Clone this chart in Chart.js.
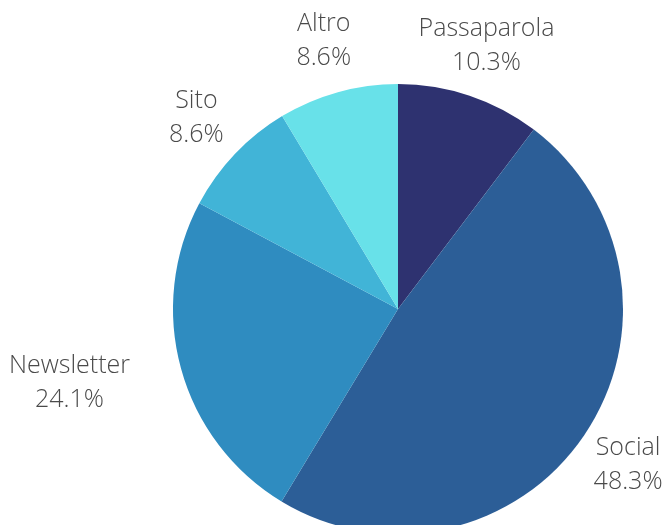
<!DOCTYPE html>
<html>
<head>
<meta charset="utf-8">
<script src="https://cdn.jsdelivr.net/npm/chart.js@4.4.0/dist/chart.umd.min.js"></script>
<style>
  html, body { margin: 0; padding: 0; background: #fff; overflow: hidden; }
  #wrap { position: absolute; left: 0; top: 0; width: 662px; height: 540px; }
</style>
</head>
<body>
<div id="wrap"><canvas id="pieChart"></canvas></div>
<script>
// Data
const categories = ['Passaparola', 'Social', 'Newsletter', 'Sito', 'Altro'];
const shares = [10.3, 48.3, 24.1, 8.6, 8.6];
const sliceColors = ['#2e3270', '#2c5e97', '#2f8cc0', '#41b4d7', '#68e1e9'];

// Outside labels: name on top, percentage below
const outsideLabels = {
    id: 'outsideLabels',
    afterDatasetsDraw(chart) {
        const ctx = chart.ctx;
        const meta = chart.getDatasetMeta(0);
        ctx.save();
        ctx.font = '300 25px "Open Sans"';
        ctx.fillStyle = '#4a4a4a';
        ctx.textBaseline = 'middle';
        ctx.textAlign = 'center';
        meta.data.forEach((arc, i) => {
            const name = categories[i];
            const pct = shares[i].toFixed(1) + '%';
            const mid = (arc.startAngle + arc.endAngle) / 2;
            const dist = arc.outerRadius + 53;
            const c = Math.cos(mid);
            let x = arc.x + c * dist;
            const y = arc.y + Math.sin(mid) * dist;
            // near the sides the whole block is pushed out instead of centred
            if (Math.abs(c) > 0.9) {
                const w = Math.max(ctx.measureText(name).width, ctx.measureText(pct).width);
                x += Math.sign(c) * w / 2;
            }
            ctx.fillText(name, x, y - 17);
            ctx.fillText(pct, x, y + 17);
        });
        ctx.restore();
    }
};

const ctx = document.getElementById('pieChart').getContext('2d');
const pieChart = new Chart(ctx, {
    type: 'pie',
    data: {
        labels: categories,
        datasets: [{
            data: shares,
            backgroundColor: sliceColors,
            borderWidth: 0
        }]
    },
    options: {
        responsive: true,
        maintainAspectRatio: false,
        animation: false,
        layout: { padding: { top: 84, bottom: 6, left: 134, right: 0 } },
        plugins: {
            legend: { display: false },
            tooltip: { enabled: false }
        }
    },
    plugins: [outsideLabels]
});
</script>
</body>
</html>
